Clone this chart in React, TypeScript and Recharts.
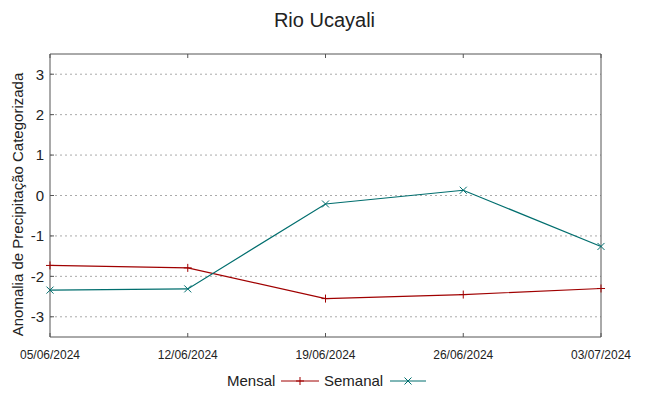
import {
  LineChart,
  Line,
  XAxis,
  YAxis,
  CartesianGrid,
  Legend,
} from 'recharts';

const datas = ['05/06/2024', '12/06/2024', '19/06/2024', '26/06/2024', '03/07/2024'];
const mensal = [-1.73, -1.79, -2.55, -2.45, -2.3];
const semanal = [-2.34, -2.31, -0.21, 0.13, -1.26];
const yTicks = [-3, -2, -1, 0, 1, 2, 3];

const corMensal = '#a00000';
const corSemanal = '#006e6e';
const fonte = '"Liberation Sans", Arial, sans-serif';

const dados = datas.map((d, i) => ({ data: d, mensal: mensal[i], semanal: semanal[i] }));

const Mais = (props: any) => {
  const { cx, cy } = props;
  if (cx == null || cy == null) return null;
  return (
    <g stroke={corMensal} strokeWidth={1}>
      <line x1={cx - 4} y1={cy} x2={cx + 4} y2={cy} />
      <line x1={cx} y1={cy - 4} x2={cx} y2={cy + 4} />
    </g>
  );
};

const Vezes = (props: any) => {
  const { cx, cy } = props;
  if (cx == null || cy == null) return null;
  return (
    <g stroke={corSemanal} strokeWidth={1}>
      <line x1={cx - 3.5} y1={cy - 3.5} x2={cx + 3.5} y2={cy + 3.5} />
      <line x1={cx - 3.5} y1={cy + 3.5} x2={cx + 3.5} y2={cy - 3.5} />
    </g>
  );
};

const Legenda = () => (
  <svg width={220} height={20} style={{ fontFamily: fonte, fontSize: 15 }}>
    <text x={0} y={15} fill="#222">Mensal</text>
    <line x1={54} y1={10} x2={92} y2={10} stroke={corMensal} />
    <Mais cx={73} cy={10} />
    <text x={97} y={15} fill="#222">Semanal</text>
    <line x1={163} y1={10} x2={199} y2={10} stroke={corSemanal} />
    <Vezes cx={181} cy={10} />
  </svg>
);

const App = () => {
  return (
    <div style={{ margin: -8, width: 649, height: 396, position: 'relative', background: '#fff' }}>
      <div
        style={{
          position: 'absolute',
          top: 9,
          width: 649,
          textAlign: 'center',
          fontFamily: fonte,
          fontSize: 20,
          color: '#222',
        }}
      >
        Rio Ucayali
      </div>
      <LineChart
        width={649}
        height={396}
        data={dados}
        margin={{ top: 53, right: 47, left: 0, bottom: 0 }}
      >
        <CartesianGrid vertical={false} horizontalValues={yTicks} stroke="#aaa" strokeDasharray="2 3" />
        <XAxis
          dataKey="data"
          xAxisId={0}
          height={35}
          stroke="#555"
          tickSize={-4}
          tickMargin={17}
          interval={0}
          tick={{ fill: '#222', fontSize: 12, fontFamily: fonte }}
        />
        <XAxis
          dataKey="data"
          xAxisId="topo"
          orientation="top"
          height={1}
          stroke="#555"
          tickSize={-4}
          interval={0}
          tick={() => <g />}
        />
        <YAxis
          yAxisId={0}
          width={50}
          domain={[-3.5, 3.5]}
          ticks={yTicks}
          stroke="#555"
          tickSize={-4}
          tickMargin={10}
          tick={{ fill: '#222', fontSize: 15, fontFamily: fonte }}
          label={{
            value: 'Anomalia de Precipitação Categorizada',
            angle: -90,
            position: 'insideLeft',
            offset: 18,
            dy: 9,
            style: { fontSize: 15, fontFamily: fonte, fill: '#222', textAnchor: 'middle' },
          }}
        />
        <YAxis
          yAxisId="dir"
          orientation="right"
          width={1}
          domain={[-3.5, 3.5]}
          ticks={yTicks}
          stroke="#555"
          tickSize={-4}
          tick={() => <g />}
        />
        <Legend
          verticalAlign="bottom"
          align="center"
          content={() => <Legenda />}
          wrapperStyle={{ left: 227, width: 220, bottom: 1 }}
        />
        <Line
          type="linear"
          dataKey="mensal"
          stroke={corMensal}
          strokeWidth={1.2}
          dot={<Mais />}
          activeDot={false}
          isAnimationActive={false}
        />
        <Line
          type="linear"
          dataKey="semanal"
          stroke={corSemanal}
          strokeWidth={1.2}
          dot={<Vezes />}
          activeDot={false}
          isAnimationActive={false}
        />
      </LineChart>
    </div>
  );
};

export default App;
